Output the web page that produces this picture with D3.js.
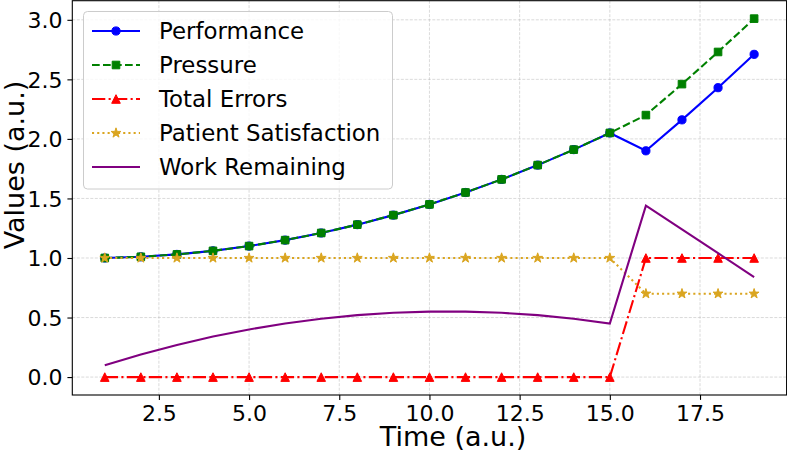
<!DOCTYPE html>
<html>
<head>
<meta charset="utf-8">
<script src="https://cdn.jsdelivr.net/npm/d3@7"></script>
<style>
  html, body { margin: 0; padding: 0; background: #fff; }
  svg { display: block; font-family: "DejaVu Sans", sans-serif; }
</style>
</head>
<body>
<svg id="chart" width="787" height="451"></svg>
<script>
const time = [1,2,3,4,5,6,7,8,9,10,11,12,13,14,15,16,17,18,19];
const performance = [1.00,1.01,1.03,1.06,1.10,1.15,1.21,1.28,1.36,1.45,1.55,1.66,1.78,1.91,2.05,1.90,2.16,2.43,2.71];
const pressure    = [1.00,1.01,1.03,1.06,1.10,1.15,1.21,1.28,1.36,1.45,1.55,1.66,1.78,1.91,2.05,2.20,2.46,2.73,3.01];
const totalErrors = [0,0,0,0,0,0,0,0,0,0,0,0,0,0,0,1,1,1,1];
const patientSatisfaction = [1,1,1,1,1,1,1,1,1,1,1,1,1,1,1,0.7,0.7,0.7,0.7];
const workRemaining = [0.10,0.19,0.27,0.34,0.40,0.45,0.49,0.52,0.54,0.55,0.55,0.54,0.52,0.49,0.45,1.44,1.24,1.04,0.84];
const xTicks = [2.5,5.0,7.5,10.0,12.5,15.0,17.5];
const yTicks = [0.0,0.5,1.0,1.5,2.0,2.5,3.0];
const seriesNames = ["Performance","Pressure","Total Errors","Patient Satisfaction","Work Remaining"];

const series = [
  {name: seriesNames[0], values: performance, color: "#0000ff", dash: null, marker: "circle"},
  {name: seriesNames[1], values: pressure, color: "#008000", dash: "7.7,3.3", marker: "square"},
  {name: seriesNames[2], values: totalErrors, color: "#ff0000", dash: "13.3,3.3,2.1,3.3", marker: "triangle"},
  {name: seriesNames[3], values: patientSatisfaction, color: "#daa520", dash: "2.1,3.1", marker: "star"},
  {name: seriesNames[4], values: workRemaining, color: "#800080", dash: null, marker: null}
];

const svg = d3.select("#chart");
const L = 72.3, R = 786.6, T = 0.7, B = 395;
const x = d3.scaleLinear().domain([0.1, 19.9]).range([L, R]);
const y = d3.scaleLinear().domain([-0.1505, 3.1605]).range([B, T]);

// grid
const grid = svg.append("g");
grid.selectAll("line.vx").data(xTicks).enter().append("line")
  .attr("x1", d => x(d)).attr("x2", d => x(d)).attr("y1", T).attr("y2", B)
  .attr("stroke", "#b0b0b0").attr("stroke-opacity", 0.6).attr("stroke-width", 0.8).attr("stroke-dasharray", "3,1.5");
grid.selectAll("line.hy").data(yTicks).enter().append("line")
  .attr("y1", d => y(d)).attr("y2", d => y(d)).attr("x1", L).attr("x2", R)
  .attr("stroke", "#b0b0b0").attr("stroke-opacity", 0.6).attr("stroke-width", 0.8).attr("stroke-dasharray", "3,1.5");

// axes
const fmt = d3.format(".1f");
const xAxis = d3.axisBottom(x).tickValues(xTicks).tickFormat(fmt).tickSize(4.9).tickPadding(4.9);
const yAxis = d3.axisLeft(y).tickValues(yTicks).tickFormat(fmt).tickSize(4.9).tickPadding(4.9);
const gx = svg.append("g").attr("transform", `translate(0,${B})`).call(xAxis);
const gy = svg.append("g").attr("transform", `translate(${L},0)`).call(yAxis);
[gx, gy].forEach(g => {
  g.select(".domain").remove();
  g.selectAll(".tick line").attr("stroke", "#000").attr("stroke-width", 1.1);
  g.selectAll(".tick text").attr("fill", "#000").attr("font-size", "22px").attr("font-family", "DejaVu Sans");
});
gy.selectAll(".tick text").attr("dy", "0.36em");
gx.selectAll(".tick text").attr("dy", "0.74em");

// markers
const markerPath = {
  circle: d3.symbol(d3.symbolCircle, Math.PI * 4.1 * 4.1),
  square: d3.symbol(d3.symbolSquare, 7.6 * 7.6),
  star: d3.symbol(d3.symbolStar, 30)
};
function drawMarker(g, type, cx, cy, color) {
  if (!type) return;
  if (type === "triangle") {
    const s = 4.3;
    g.append("path").attr("d", `M${cx},${cy - s}L${cx + s},${cy + s}L${cx - s},${cy + s}Z`)
      .attr("fill", color).attr("stroke", color).attr("stroke-width", 1);
  } else {
    g.append("path").attr("d", markerPath[type]()).attr("transform", `translate(${cx},${cy})`)
      .attr("fill", color).attr("stroke", color).attr("stroke-width", 1);
  }
}
const line = d3.line().x(d => x(d[0])).y(d => y(d[1]));
series.forEach(s => {
  const g = svg.append("g");
  const pts = time.map((t, i) => [t, s.values[i]]);
  g.append("path").attr("d", line(pts)).attr("fill", "none").attr("stroke", s.color)
    .attr("stroke-width", 2.1).attr("stroke-dasharray", s.dash);
  pts.forEach(p => drawMarker(g, s.marker, x(p[0]), y(p[1]), s.color));
});

// spines
svg.append("rect").attr("x", L).attr("y", T).attr("width", R - L).attr("height", B - T)
  .attr("fill", "none").attr("stroke", "#000").attr("stroke-width", 1.1);

// axis labels
svg.append("text").attr("x", 453).attr("y", 446).attr("text-anchor", "middle")
  .attr("font-size", "27px").attr("fill", "#000").text("Time (a.u.)");
svg.append("text").attr("transform", "translate(24,165) rotate(-90)").attr("text-anchor", "middle")
  .attr("font-size", "27px").attr("fill", "#000").text("Values (a.u.)");

// legend
const lg = svg.append("g");
lg.append("rect").attr("x", 83.5).attr("y", 11.5).attr("width", 309).attr("height", 177.5).attr("rx", 4)
  .attr("fill", "#fff").attr("fill-opacity", 0.8).attr("stroke", "#cccccc").attr("stroke-width", 1);
series.forEach((s, i) => {
  const cy = 31 + i * 34;
  lg.append("line").attr("x1", 92).attr("x2", 140).attr("y1", cy).attr("y2", cy)
    .attr("stroke", s.color).attr("stroke-width", 2.1).attr("stroke-dasharray", s.dash);
  drawMarker(lg, s.marker, 116, cy, s.color);
  lg.append("text").attr("x", 159).attr("y", cy + 8).attr("font-size", "22.9px").attr("fill", "#000").text(s.name);
});
</script>
</body>
</html>
